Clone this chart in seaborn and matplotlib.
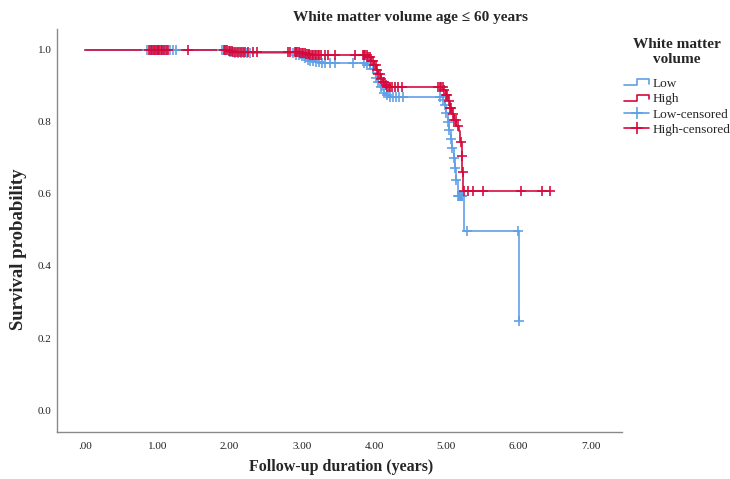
import numpy as np
import pandas as pd
import matplotlib
matplotlib.use("Agg")
import matplotlib.pyplot as plt
import seaborn as sns
from matplotlib.lines import Line2D
from matplotlib.legend_handler import HandlerBase

# ---------------- data ----------------
low_t = [0.00, 1.98, 2.05, 2.20, 2.92, 2.97, 3.02, 3.07, 3.12, 3.18, 3.25,
         3.90, 3.95, 3.99, 4.02, 4.05, 4.08, 4.11, 4.14, 4.17, 4.21,
         4.95, 4.98, 5.00, 5.02, 5.04, 5.06, 5.08, 5.10, 5.12, 5.14, 5.16,
         5.25, 6.00]
low_s = [1.000, 0.995, 0.992, 0.990, 0.987, 0.982, 0.977, 0.973, 0.969, 0.966, 0.964,
         0.958, 0.948, 0.935, 0.922, 0.910, 0.898, 0.888, 0.880, 0.874, 0.870,
         0.862, 0.848, 0.825, 0.800, 0.778, 0.752, 0.728, 0.700, 0.672, 0.640, 0.595,
         0.497, 0.248]

high_t = [0.00, 1.97, 2.05, 2.92, 2.98, 3.05, 3.12, 3.20, 3.28,
          3.92, 3.96, 4.00, 4.03, 4.06, 4.09, 4.12, 4.15, 4.18,
          4.96, 4.99, 5.02, 5.05, 5.08, 5.11, 5.14, 5.17, 5.19, 5.21, 5.22, 5.23]
high_s = [1.000, 0.997, 0.995, 0.993, 0.991, 0.989, 0.987, 0.986, 0.985,
          0.980, 0.970, 0.957, 0.945, 0.932, 0.920, 0.910, 0.902, 0.896,
          0.888, 0.875, 0.858, 0.840, 0.822, 0.805, 0.790, 0.775, 0.745, 0.705, 0.662, 0.607]

low_cens = [0.86, 0.90, 0.94, 0.98, 1.02, 1.06, 1.10, 1.14, 1.18, 1.22, 1.26,
            1.90, 1.95, 2.00, 2.04, 2.08, 2.12, 2.16, 2.20, 2.24, 2.28,
            2.88, 2.92, 2.96, 3.00, 3.04, 3.08, 3.12, 3.16, 3.20, 3.24, 3.28, 3.32, 3.39, 3.46, 3.71,
            3.86, 3.90, 3.94, 3.98, 4.02, 4.06, 4.10, 4.14, 4.18, 4.22, 4.26, 4.30, 4.34, 4.40,
            4.91, 4.95, 4.98, 5.00, 5.02, 5.04, 5.06, 5.08, 5.10, 5.12, 5.14, 5.16, 5.17,
            5.18, 5.19, 5.20, 5.21, 5.22,
            5.28, 5.99, 6.00]

high_cens = [0.88, 0.91, 0.93, 0.95, 0.97, 0.99, 1.01, 1.03, 1.05, 1.07, 1.09, 1.12, 1.15, 1.42,
             1.92, 1.94, 1.96, 1.99, 2.01, 2.03, 2.05, 2.08, 2.10, 2.13, 2.16, 2.19, 2.22, 2.26, 2.33, 2.38,
             2.81, 2.84, 2.90, 2.92, 2.94, 2.96, 2.98, 3.00, 3.02, 3.04, 3.06, 3.08, 3.10, 3.12, 3.14,
             3.16, 3.18, 3.20, 3.22, 3.24, 3.26, 3.32, 3.36, 3.46, 3.73,
             3.84, 3.86, 3.88, 3.90, 3.92, 3.94, 3.96, 3.98, 4.00, 4.02, 4.04, 4.06, 4.08, 4.10,
             4.12, 4.14, 4.16, 4.18, 4.20, 4.22, 4.25, 4.29, 4.33, 4.38,
             4.88, 4.91, 4.93, 4.95, 4.97, 4.99, 5.01, 5.03, 5.05, 5.07, 5.09, 5.11, 5.13, 5.16,
             5.20, 5.215, 5.225,
             5.24, 5.30, 5.37, 5.50, 6.03, 6.33, 6.43]

x_ticks = [0, 1, 2, 3, 4, 5, 6, 7]
x_tick_labels = [".00", "1.00", "2.00", "3.00", "4.00", "5.00", "6.00", "7.00"]
y_ticks = [0.0, 0.2, 0.4, 0.6, 0.8, 1.0]
y_tick_labels = ["0.0", "0.2", "0.4", "0.6", "0.8", "1.0"]

groups = ["Low", "High"]
legend_labels = ["Low", "High", "Low-censored", "High-censored"]
title = "White matter volume age \u2264 60 years"
x_label = "Follow-up duration (years)"
y_label = "Survival probability"
legend_title = "White matter\nvolume"

# ---------------- styling ----------------
sns.set_style("white")
plt.rcParams["font.family"] = ["Liberation Serif", "DejaVu Serif"]

BLUE = "#5F9FE6"
RED = "#D4093C"
colors = {"Low": BLUE, "High": RED}


def step_frame(t, s, cens):
    t = list(t)
    s = list(s)
    end = max(max(cens), t[-1])
    if end > t[-1]:
        t.append(end)
        s.append(s[-1])
    return pd.DataFrame({"time": t, "surv": s})


def cens_frame(t, s, cens):
    t = np.asarray(t)
    s = np.asarray(s)
    idx = np.searchsorted(t, np.asarray(cens), side="right") - 1
    return pd.DataFrame({"time": cens, "surv": s[idx]})


fig = plt.figure(figsize=(7.30, 4.79), dpi=100)
ax = fig.add_axes([57 / 730, 1 - 432 / 479, (622 - 57) / 730, (432 - 29) / 479])

series = {"Low": (low_t, low_s, low_cens), "High": (high_t, high_s, high_cens)}
for g in groups:
    t, s, c = series[g]
    sf = step_frame(t, s, c)
    sns.lineplot(data=sf, x="time", y="surv", ax=ax, color=colors[g],
                 drawstyle="steps-post", linewidth=1.3, estimator=None,
                 sort=False, alpha=0.9)
for g in groups:
    t, s, c = series[g]
    cf = cens_frame(t, s, c)
    sns.scatterplot(data=cf, x="time", y="surv", ax=ax, color=colors[g],
                    marker="+", s=50, linewidth=1.3, alpha=0.9, zorder=3)

ax.set_xlim(-0.387, 7.43)
ax.set_ylim(-0.061, 1.058)
ax.set_xticks(x_ticks)
ax.set_xticklabels(x_tick_labels)
ax.set_yticks(y_ticks)
ax.set_yticklabels(y_tick_labels)
ax.tick_params(axis="both", length=0, labelsize=8, colors="#222222")
ax.tick_params(axis="x", pad=7)
ax.tick_params(axis="y", pad=4)
for sp in ["top", "right"]:
    ax.spines[sp].set_visible(False)
for sp in ["left", "bottom"]:
    ax.spines[sp].set_color("#8a8a8a")
    ax.spines[sp].set_linewidth(1.0)

ax.set_xlabel(x_label, fontsize=11.5, fontweight="bold")
ax.set_ylabel(y_label, fontsize=13.5, fontweight="bold")
ax.xaxis.set_label_coords(0.503, -0.068)
ax.yaxis.set_label_coords(-0.053, 0.454)

fig.text(293 / 730, 1 - 17 / 479, title, ha="left", va="center",
         fontsize=11, fontweight="bold")

# legend title drawn as its own text block
fig.text(677 / 730, 1 - 52 / 479, legend_title, ha="center", va="center",
         fontsize=11, fontweight="bold", linespacing=1.2)


class StepHandler(HandlerBase):
    def create_artists(self, legend, orig_handle, xdescent, ydescent,
                       width, height, fontsize, trans):
        x0, y0 = -xdescent, -ydescent
        xs = [x0, x0 + 0.52 * width, x0 + 0.52 * width, x0 + width, x0 + width]
        ys = [y0 + 0.2 * height, y0 + 0.2 * height, y0 + 0.85 * height,
              y0 + 0.85 * height, y0 + 0.35 * height]
        ln = Line2D(xs, ys, color=orig_handle.get_color(), lw=1.2, transform=trans)
        return [ln]


h_low = Line2D([], [], color=BLUE)
h_high = Line2D([], [], color=RED)
h_lowc = Line2D([], [], color=BLUE, marker="+", markersize=9, lw=1.2, mew=1.2)
h_highc = Line2D([], [], color=RED, marker="+", markersize=9, lw=1.2, mew=1.2)
leg = fig.legend([h_low, h_high, h_lowc, h_highc], legend_labels,
                 handler_map={h_low: StepHandler(), h_high: StepHandler()},
                 loc="upper left", bbox_to_anchor=(624 / 730, 1 - 78 / 479),
                 frameon=False, fontsize=9.5,
                 handlelength=1.9, handletextpad=0.25, labelspacing=0.22,
                 borderpad=0, borderaxespad=0, numpoints=1)

fig.savefig("out.png", dpi=100, facecolor="white")
